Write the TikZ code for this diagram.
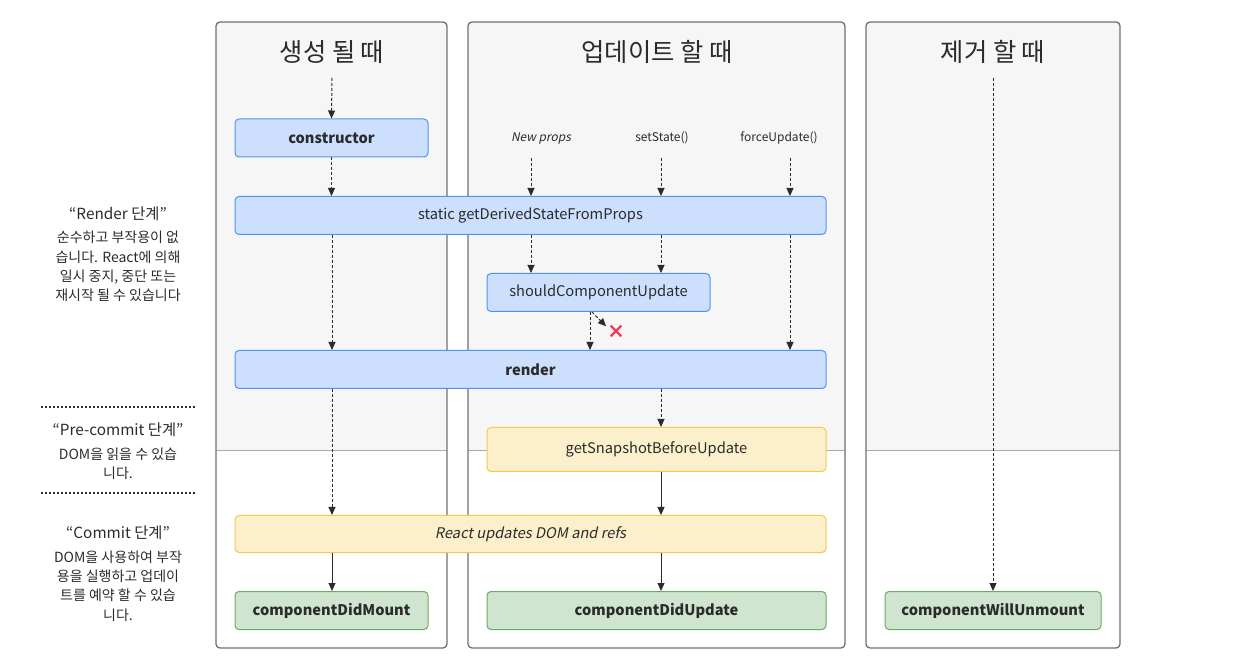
\documentclass[tikz,border=0pt]{standalone}
\usepackage{fontspec}
\setmainfont{Noto Sans CJK KR}[AutoFakeSlant=0.2]
\usetikzlibrary{arrows.meta}

\definecolor{ink}{HTML}{2B2B2B}
\definecolor{colbg}{HTML}{F6F6F6}
\definecolor{colline}{HTML}{707070}
\definecolor{sepline}{HTML}{ABABAB}
\definecolor{bluefill}{HTML}{CCE0FD}
\definecolor{blueline}{HTML}{4E95F2}
\definecolor{yelfill}{HTML}{FCF0CC}
\definecolor{yelline}{HTML}{F6C94B}
\definecolor{grnfill}{HTML}{D0E5CF}
\definecolor{grnline}{HTML}{6AAC62}
\definecolor{nored}{HTML}{F03C62}

\newcommand{\boxfont}{\fontsize{11}{13}\selectfont}

\tikzset{
  lc/.style={rounded corners=3pt, line width=0.75pt, text=ink, inner sep=0pt,
    minimum height=28.5pt, font=\boxfont},
  renderbox/.style={lc, fill=bluefill, draw=blueline},
  commitbox/.style={lc, fill=yelfill, draw=yelline},
  donebox/.style={lc, fill=grnfill, draw=grnline, font=\boxfont\bfseries},
  trig/.style={text=ink, inner sep=0pt, minimum height=30pt, font=\fontsize{9}{11}\selectfont},
  hdr/.style={text=ink, font=\fontsize{19}{23}\selectfont},
  phase/.style={text=ink, font=\fontsize{11.5}{14}\selectfont},
  phasetext/.style={text=ink, align=center, inner sep=0pt, font=\fontsize{10.5}{14.4}\selectfont},
  darr/.style={draw=ink, line width=0.75pt, dash pattern=on 2.25pt off 1.5pt,
    -{Triangle[length=6pt,width=5.25pt]}},
  sarr/.style={draw=ink, line width=0.75pt, -{Triangle[length=6pt,width=5.25pt]}},
  sepdots/.style={draw=ink, line width=1.5pt, dash pattern=on 1.5pt off 1.5pt}
}

\begin{document}
\begin{tikzpicture}[x=0.75pt,y=-0.75pt]
  \useasboundingbox (0,0) rectangle (1233,659);

  % columns
  \fill[colbg] (216,22) rectangle (447,450);
  \fill[colbg] (468,22) rectangle (845,450);
  \fill[colbg] (866,22) rectangle (1120,450);
  \draw[sepline] (216,450) -- (447,450);
  \draw[sepline] (468,450) -- (845,450);
  \draw[sepline] (866,450) -- (1120,450);
  \draw[colline, line width=1pt, rounded corners=3pt] (216,22) rectangle (447,648);
  \draw[colline, line width=1pt, rounded corners=3pt] (468,22) rectangle (845,648);
  \draw[colline, line width=1pt, rounded corners=3pt] (866,22) rectangle (1120,648);

  \node[hdr] (hmount) at (332,52) {생성 될 때};
  \node[hdr] (hupdate) at (657,52) {업데이트 할 때};
  \node[hdr] (hunmount) at (993,52) {제거 할 때};

  % lifecycle methods
  \node[renderbox, minimum width=144.75pt, font=\boxfont\bfseries] (ctor) at (331.5,138) {constructor};
  \node[renderbox, minimum width=443.25pt] (gdsfp) at (530.5,215.5) {static getDerivedStateFromProps};
  \node[renderbox, minimum width=167.25pt] (scu) at (598.5,292.5) {shouldComponentUpdate};
  \node[renderbox, minimum width=443.25pt, font=\boxfont\bfseries] (render) at (530.5,369.5) {render};
  \node[commitbox, minimum width=254.25pt, minimum height=33pt] (snap) at (656.5,449.5) {getSnapshotBeforeUpdate};
  \node[commitbox, minimum width=443.25pt, minimum height=27.75pt, font=\boxfont\itshape] (commit) at (530.5,534) {React updates DOM and refs};
  \node[donebox, minimum width=144.75pt] (didmount) at (331.5,610.5) {componentDidMount};
  \node[donebox, minimum width=254.25pt] (didupdate) at (656.5,610.5) {componentDidUpdate};
  \node[donebox, minimum width=162pt] (willunmount) at (993,610.5) {componentWillUnmount};

  % update triggers
  \node[trig, font=\fontsize{9}{11}\selectfont\itshape] (npr) at (541,138) {New props};
  \node[trig] (sst) at (662,138) {setState()};
  \node[trig] (fup) at (779,138) {forceUpdate()};

  \coordinate (mstart) at (332,78);
  \coordinate (ustart) at (993,78);
  \coordinate (laneM) at (332,0);
  \coordinate (laneP) at (531,0);
  \coordinate (laneS) at (590,0);
  \coordinate (laneU) at (661,0);
  \coordinate (laneF) at (790,0);
  \node[inner sep=0pt, minimum size=7.5pt] (nope) at (616,331) {};

  \draw[darr] (mstart) -- (ctor.north);
  \draw[darr] (ctor.south) -- (ctor.south |- gdsfp.north);
  \draw[darr] (laneP |- npr.south) -- (laneP |- gdsfp.north);
  \draw[darr] (laneU |- sst.south) -- (laneU |- gdsfp.north);
  \draw[darr] (laneF |- fup.south) -- (laneF |- gdsfp.north);
  \draw[darr] (laneM |- gdsfp.south) -- (laneM |- render.north);
  \draw[darr] (laneP |- gdsfp.south) -- (laneP |- scu.north);
  \draw[darr] (laneU |- gdsfp.south) -- (laneU |- scu.north);
  \draw[darr] (laneF |- gdsfp.south) -- (laneF |- render.north);
  \draw[darr] (laneS |- scu.south) -- (laneS |- render.north);
  \draw[darr, shorten >=5pt] ([xshift=1.5pt]laneS |- scu.south) -- (nope.west);
  \draw[nored, line width=1.8pt] (nope.north west) -- (nope.south east)
    (nope.north east) -- (nope.south west);
  \draw[darr] (laneM |- render.south) -- (laneM |- commit.north);
  \draw[darr] (laneU |- render.south) -- (laneU |- snap.north);
  \draw[sarr] (laneU |- snap.south) -- (laneU |- commit.north);
  \draw[sarr] (laneM |- commit.south) -- (laneM |- didmount.north);
  \draw[sarr] (laneU |- commit.south) -- (laneU |- didupdate.north);
  \draw[darr] (ustart) -- (willunmount.north);

  % phases
  \node[phase] (rtitle) at (118,214) {“Render 단계”};
  \node[phasetext] (rtext) at (118,266.5) {순수하고 부작용이 없\\습니다. React에 의해\\일시 중지, 중단 또는\\재시작 될 수 있습니다};
  \draw[sepdots] (41,407) -- (196,407);
  \node[phase] (ptitle) at (118,430) {“Pre-commit 단계”};
  \node[phasetext] (ptext) at (118,463.5) {DOM을 읽을 수 있습\\니다.};
  \draw[sepdots] (41,493) -- (196,493);
  \node[phase] (ctitle) at (118,533) {“Commit 단계”};
  \node[phasetext] (ctext) at (118,586) {DOM을 사용하여 부작\\용을 실행하고 업데이\\트를 예약 할 수 있습\\니다.};
\end{tikzpicture}
\end{document}
